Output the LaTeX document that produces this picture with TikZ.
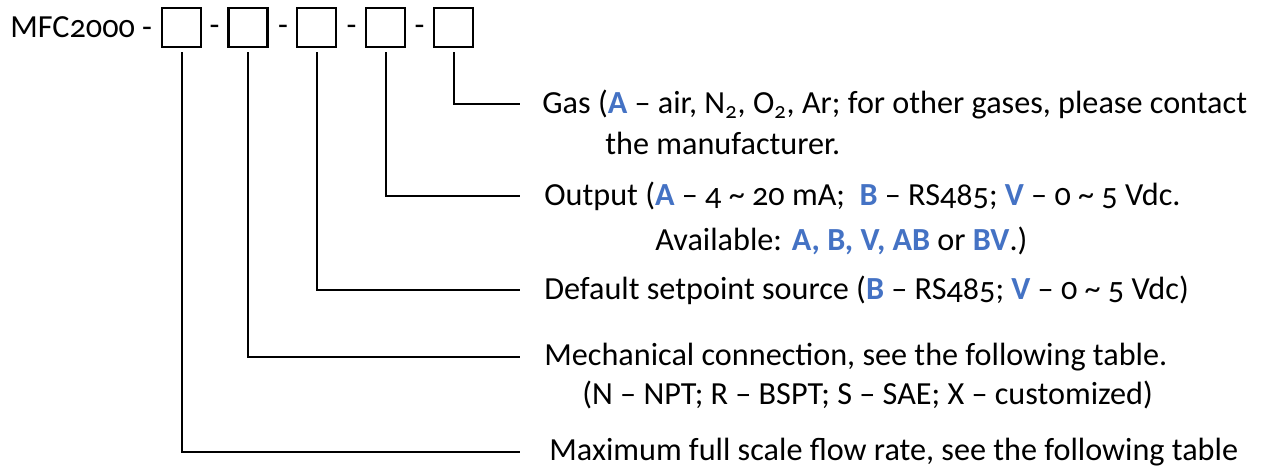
\documentclass[tikz,border=0pt]{standalone}
\usepackage{fontspec}
\setmainfont{Carlito}[Numbers=OldStyle]
\usetikzlibrary{positioning}
\definecolor{codeblue}{HTML}{4472C4}
\newcommand{\opt}[1]{{\color{codeblue}\bfseries #1}}

\begin{document}
\begin{tikzpicture}[x=0.5pt, y=-0.5pt,
    slot/.style={draw, line width=1.1pt, minimum size=19.5pt, inner sep=0pt},
    lead/.style={line width=1pt, shorten <=2pt},
    desc/.style={inner sep=0pt, anchor=west, font=\fontsize{16.1}{19}\selectfont},
  ]
  \useasboundingbox (0,0) rectangle (1266,472);

  % --- Order code with its five slots ---
  \node[desc] (code) at (10,27) {MFC2000 -};
  \foreach \i/\x in {1/181.5, 2/248, 3/316.5, 4/385.5, 5/453.5}
    \node[slot] (b\i) at (\x,27.5) {};
  \foreach \i/\x in {1/214.5, 2/283, 3/351.5, 4/419.5}
    \node[desc, anchor=center] (d\i) at (\x,30) {-};

  % --- Leader lines ---
  \foreach \i/\y in {1/452, 2/357, 3/290, 4/196, 5/104} {
    \coordinate (e\i) at (520,\y);
    \draw[lead] (b\i) |- (e\i);
  }

  % --- Gas ---
  \node[desc, right=11pt of e5] (t5) {Gas (\opt{A} – air, N\textsubscript{2}, O\textsubscript{2}, Ar; for other gases, please contact};
  \node[desc] (t5b) at (605,143) {the manufacturer.};

  % --- Output ---
  \node[desc, right=12pt of e4] (t4) {Output (\opt{A} – 4 \textasciitilde{} 20 mA;\ \ \opt{B} – RS485; \opt{V} – 0 \textasciitilde{} 5 Vdc.};
  \node[desc] (t4b) at (655,241) {Available: \opt{A, B, V, AB} or \opt{BV}.)};

  % --- Setpoint source ---
  \node[desc, right=12pt of e3] (t3) {Default setpoint source (\opt{B} – RS485; \opt{V} – 0 \textasciitilde{} 5 Vdc)};

  % --- Mechanical connection ---
  \node[desc, right=12pt of e2] (t2) {Mechanical connection, see the following table.};
  \node[desc] (t2b) at (582,395) {(N – NPT; R – BSPT; S – SAE; X – customized)};

  % --- Flow rate ---
  \node[desc, right=14.5pt of e1] (t1) {Maximum full scale flow rate, see the following table};
\end{tikzpicture}
\end{document}
